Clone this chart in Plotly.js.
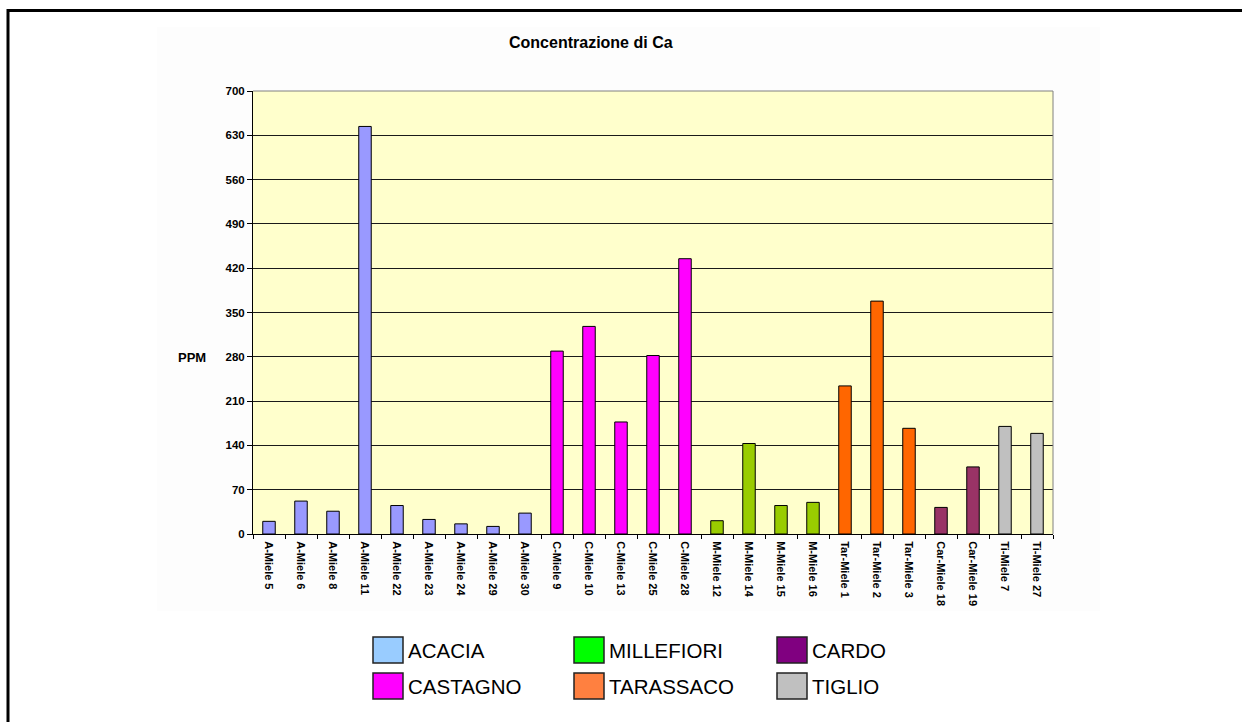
<!DOCTYPE html>
<html>
<head>
<meta charset="utf-8">
<script src="https://cdn.plot.ly/plotly-3.0.1.min.js"></script>
<style>
  html, body { margin: 0; padding: 0; background: #ffffff; }
  #chart { width: 1242px; height: 722px; }
</style>
</head>
<body>
<div id="chart"></div>
<script>
// ---- data ----
const acaciaCats = ['A-Miele 5','A-Miele 6','A-Miele 8','A-Miele 11','A-Miele 22','A-Miele 23','A-Miele 24','A-Miele 29','A-Miele 30'];
const acaciaVals = [20, 52, 36, 644, 45, 23, 16, 12, 33];
const castagnoCats = ['C-Miele 9','C-Miele 10','C-Miele 13','C-Miele 25','C-Miele 28'];
const castagnoVals = [289, 328, 177, 282, 435];
const millefioriCats = ['M-Miele 12','M-Miele 14','M-Miele 15','M-Miele 16'];
const millefioriVals = [21, 143, 45, 50];
const tarassacoCats = ['Tar-Miele 1','Tar-Miele 2','Tar-Miele 3'];
const tarassacoVals = [234, 368, 167];
const cardoCats = ['Car-Miele 18','Car-Miele 19'];
const cardoVals = [42, 106];
const taglioCats = ['Ti-Miele 7','Ti-Miele 27'];
const taglioVals = [170, 159];

const barColors = ['#9999FF', '#FF00FF', '#99CC00', '#FF6600', '#993366', '#C0C0C0'];

const legendNames = ['ACACIA', 'MILLEFIORI', 'CARDO', 'CASTAGNO', 'TARASSACO', 'TIGLIO'];
const legendColors = ['#99CCFF', '#00FF00', '#800080', '#FF00FF', '#FF8040', '#C0C0C0'];

const chartTitle = 'Concentrazione di Ca';
const yTitle = 'PPM';
const yTicks = [0, 70, 140, 210, 280, 350, 420, 490, 560, 630, 700];

// ---- build ----
const groups = [
  [acaciaCats, acaciaVals],
  [castagnoCats, castagnoVals],
  [millefioriCats, millefioriVals],
  [tarassacoCats, tarassacoVals],
  [cardoCats, cardoVals],
  [taglioCats, taglioVals]
];
const allCats = [].concat(...groups.map(g => g[0]));

const traces = groups.map((g, i) => ({
  type: 'bar',
  x: g[0],
  y: g[1],
  marker: { color: barColors[i], line: { color: '#000000', width: 1 } },
  showlegend: false,
  hoverinfo: 'skip'
}));

// plot area in pixels
const PL = 253, PR = 1053, PT = 91, PB = 534;
const W = 1242, H = 722;
const px = x => (x - PL) / (PR - PL);
const py = y => (PB - y) / (PB - PT);

const FONT = '"Liberation Sans", Arial, sans-serif';

const shapes = [
  // faint chart-area background
  { type: 'rect', xref: 'paper', yref: 'paper', layer: 'below',
    x0: px(157), x1: px(1100), y0: py(611), y1: py(27),
    fillcolor: '#FDFDFD', line: { width: 0 } },
  // plot area yellow
  { type: 'rect', xref: 'paper', yref: 'paper', layer: 'below',
    x0: 0, x1: 1, y0: 0, y1: 1,
    fillcolor: '#FFFFCC', line: { width: 0 } },
  // plot area grey border top & right
  { type: 'line', xref: 'paper', yref: 'paper', layer: 'above',
    x0: 0, x1: 1, y0: 1, y1: 1, line: { color: '#808080', width: 1 } },
  { type: 'line', xref: 'paper', yref: 'paper', layer: 'above',
    x0: 1, x1: 1, y0: 0, y1: 1, line: { color: '#808080', width: 1 } },
  // outer frame
  { type: 'rect', xref: 'paper', yref: 'paper', layer: 'above',
    x0: px(8), x1: px(1270), y0: py(750), y1: py(10.5),
    line: { color: '#000000', width: 3 }, fillcolor: 'rgba(0,0,0,0)' }
];

const annotations = [
  { xref: 'paper', yref: 'paper', x: px(192), y: py(357), xanchor: 'center', yanchor: 'middle',
    text: yTitle, showarrow: false, font: { family: FONT, size: 13, color: '#000', weight: 'bold' } },
  { xref: 'paper', yref: 'paper', x: px(591), y: py(42), xanchor: 'center', yanchor: 'middle',
    text: chartTitle, showarrow: false, font: { family: FONT, size: 16, color: '#000', weight: 'bold' } }
];

// custom legend (3 columns x 2 rows)
const colX = [373, 574, 777];
const rowY = [637, 673];
const swW = 30, swH = 26;
legendNames.forEach((name, i) => {
  const c = i % 3, r = Math.floor(i / 3);
  const x0 = colX[c], y0 = rowY[r];
  shapes.push({ type: 'rect', xref: 'paper', yref: 'paper', layer: 'above',
    x0: px(x0), x1: px(x0 + swW), y0: py(y0 + swH), y1: py(y0),
    fillcolor: legendColors[i], line: { color: '#222222', width: 1.5 } });
  annotations.push({ xref: 'paper', yref: 'paper', x: px(x0 + swW + 3), y: py(y0 + swH / 2),
    xanchor: 'left', yanchor: 'middle', text: name, showarrow: false,
    font: { family: FONT, size: 20.5, color: '#000' } });
});

const layout = {
  width: W, height: H,
  margin: { l: PL, r: W - PR, t: PT, b: H - PB, pad: 0 },
  paper_bgcolor: '#FFFFFF',
  plot_bgcolor: 'rgba(0,0,0,0)',
  barmode: 'overlay',
  bargap: 0.61,
  showlegend: false,
  font: { family: FONT, color: '#000' },
  xaxis: {
    type: 'category',
    categoryorder: 'array',
    categoryarray: allCats,
    tickangle: 90,
    ticks: 'outside',
    tickson: 'boundaries',
    ticklen: 4,
    tickcolor: '#000',
    tickwidth: 1,
    ticklabelstandoff: 4,
    showline: true,
    linecolor: '#000',
    linewidth: 1,
    showgrid: false,
    zeroline: false,
    tickfont: { family: FONT, size: 11, color: '#000', weight: 'bold' },
    fixedrange: true
  },
  yaxis: {
    range: [0, 700],
    tickvals: yTicks,
    ticktext: yTicks.map(String),
    ticks: 'outside',
    ticklen: 5,
    tickcolor: '#000',
    tickwidth: 1,
    showline: true,
    linecolor: '#000',
    linewidth: 1,
    showgrid: true,
    gridcolor: '#1a1a1a',
    gridwidth: 1,
    zeroline: false,
    tickfont: { family: FONT, size: 11.5, color: '#000', weight: 'bold' },
    fixedrange: true
  },
  shapes: shapes,
  annotations: annotations
};

Plotly.newPlot('chart', traces, layout, { staticPlot: true, displayModeBar: false });
</script>
</body>
</html>
